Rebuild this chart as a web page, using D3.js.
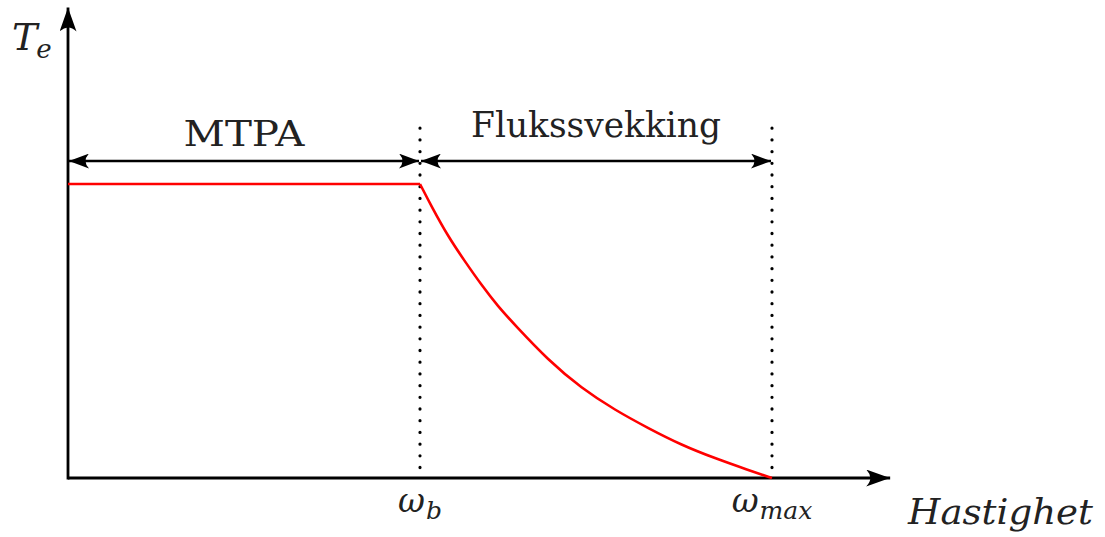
<!DOCTYPE html>
<html>
<head>
<meta charset="utf-8">
<script src="https://cdn.jsdelivr.net/npm/d3@7"></script>
<style>
  html, body { margin: 0; padding: 0; background: #fff; }
  svg { display: block; }
</style>
</head>
<body>
<svg id="chart" width="1105" height="537"></svg>
<script>
// ---- data ----
const speed  = [1.000, 1.033, 1.080, 1.128, 1.175, 1.222, 1.270, 1.364, 1.459, 1.554, 1.649, 1.743, 1.838, 1.933, 2.000];
const torque = [1.000, 0.923, 0.821, 0.736, 0.656, 0.583, 0.520, 0.401, 0.305, 0.231, 0.169, 0.112, 0.067, 0.027, 0.000];
const flatSpeed  = [0, 1];
const flatTorque = [1, 1];
const tickValues = [1, 2];
const tickNames  = [["ω", "b"], ["ω", "max"]];
const regions = [
  { name: "MTPA", from: 0, to: 1 },
  { name: "Flukssvekking", from: 1, to: 2 }
];
const regionArrowLevel = 1.078;
const dottedTop = 1.19;
const axisEndX = 2.33;
const axisEndY = 1.6;

const FONT = "'DejaVu Serif', serif";

// ---- scales ----
const svg = d3.select("#chart");
const x = d3.scaleLinear().domain([0, 2]).range([68, 772]);
const y = d3.scaleLinear().domain([0, 1]).range([478, 184]);

// arrowhead markers
const defs = svg.append("defs");
function headMarker(id, len, half) {
  defs.append("marker")
    .attr("id", id)
    .attr("viewBox", `0 ${-half} ${len} ${2 * half}`)
    .attr("refX", len).attr("refY", 0)
    .attr("markerUnits", "userSpaceOnUse")
    .attr("markerWidth", len).attr("markerHeight", 2 * half)
    .attr("orient", "auto-start-reverse")
    .append("path")
    .attr("d", `M0,${-half} Q${len * 0.35},0 0,${half} L${len},0 Z`)
    .attr("fill", "#000");
}
headMarker("axisHead", 24, 8.5);
headMarker("dimHead", 20, 7.5);

// dotted vertical lines
svg.append("g").selectAll("line").data(tickValues).join("line")
  .attr("x1", d => x(d)).attr("x2", d => x(d))
  .attr("y1", y(dottedTop)).attr("y2", y(0))
  .attr("stroke", "#000").attr("stroke-width", 3.2)
  .attr("stroke-linecap", "round")
  .attr("stroke-dasharray", "0.1 11.6");

// axes
svg.append("line")
  .attr("x1", x(0)).attr("x2", x(axisEndX) + 2)
  .attr("y1", y(0)).attr("y2", y(0))
  .attr("stroke", "#000").attr("stroke-width", 2.8)
  .attr("marker-end", "url(#axisHead)");
svg.append("line")
  .attr("x1", x(0)).attr("x2", x(0))
  .attr("y1", y(0) + 1.4).attr("y2", y(axisEndY))
  .attr("stroke", "#000").attr("stroke-width", 2.8)
  .attr("marker-end", "url(#axisHead)");

// region dimension arrows
svg.append("g").selectAll("line").data(regions).join("line")
  .attr("x1", d => x(d.from) + 1).attr("x2", d => x(d.to) - 1)
  .attr("y1", y(regionArrowLevel)).attr("y2", y(regionArrowLevel))
  .attr("stroke", "#000").attr("stroke-width", 2.6)
  .attr("marker-start", "url(#dimHead)")
  .attr("marker-end", "url(#dimHead)");

const regionWidths = { "MTPA": 121, "Flukssvekking": 250 };
svg.append("g").selectAll("text").data(regions).join("text")
  .attr("x", d => (x(d.from) + x(d.to)) / 2)
  .attr("y", d => d.name === "MTPA" ? 146 : 137)
  .attr("text-anchor", "middle")
  .style("font-family", FONT)
  .attr("fill", "#222")
  .attr("font-size", 36)
  .attr("textLength", d => regionWidths[d.name])
  .attr("lengthAdjust", "spacingAndGlyphs")
  .text(d => d.name);

// torque curve
svg.append("path")
  .attr("d", d3.line().x(d => x(d[0])).y(d => y(d[1]))(flatSpeed.map((s, i) => [s, flatTorque[i]])))
  .attr("fill", "none").attr("stroke", "#ff0000").attr("stroke-width", 2.6);
svg.append("path")
  .attr("d", d3.line().x(d => x(d[0])).y(d => y(d[1])).curve(d3.curveBasis)(speed.map((s, i) => [s, torque[i]])))
  .attr("fill", "none").attr("stroke", "#ff0000").attr("stroke-width", 2.6)
  .attr("stroke-linejoin", "round");

// tick labels
const tl = svg.append("g").selectAll("text").data(tickValues).join("text")
  .attr("x", d => x(d))
  .attr("y", 512)
  .attr("text-anchor", "middle")
  .style("font-family", FONT)
  .attr("fill", "#222")
  .attr("font-style", "italic")
  .attr("font-size", 33);
tl.each(function(d, i) {
  const t = d3.select(this);
  t.append("tspan").text(tickNames[i][0]);
  t.append("tspan").attr("font-size", 25).attr("dy", 7).attr("dx", 1).text(tickNames[i][1]);
});

// axis titles
const te = svg.append("text").attr("x", 12).attr("y", 50)
  .style("font-family", FONT).attr("fill", "#222")
  .attr("font-style", "italic").attr("font-size", 38);
te.append("tspan").text("T");
te.append("tspan").attr("font-size", 26).attr("dy", 8).attr("dx", -1).text("e");

svg.append("text").attr("x", 908).attr("y", 524)
  .style("font-family", FONT).attr("fill", "#222")
  .attr("font-style", "italic").attr("font-size", 36)
  .attr("textLength", 185).attr("lengthAdjust", "spacingAndGlyphs")
  .text("Hastighet");
</script>
</body>
</html>
